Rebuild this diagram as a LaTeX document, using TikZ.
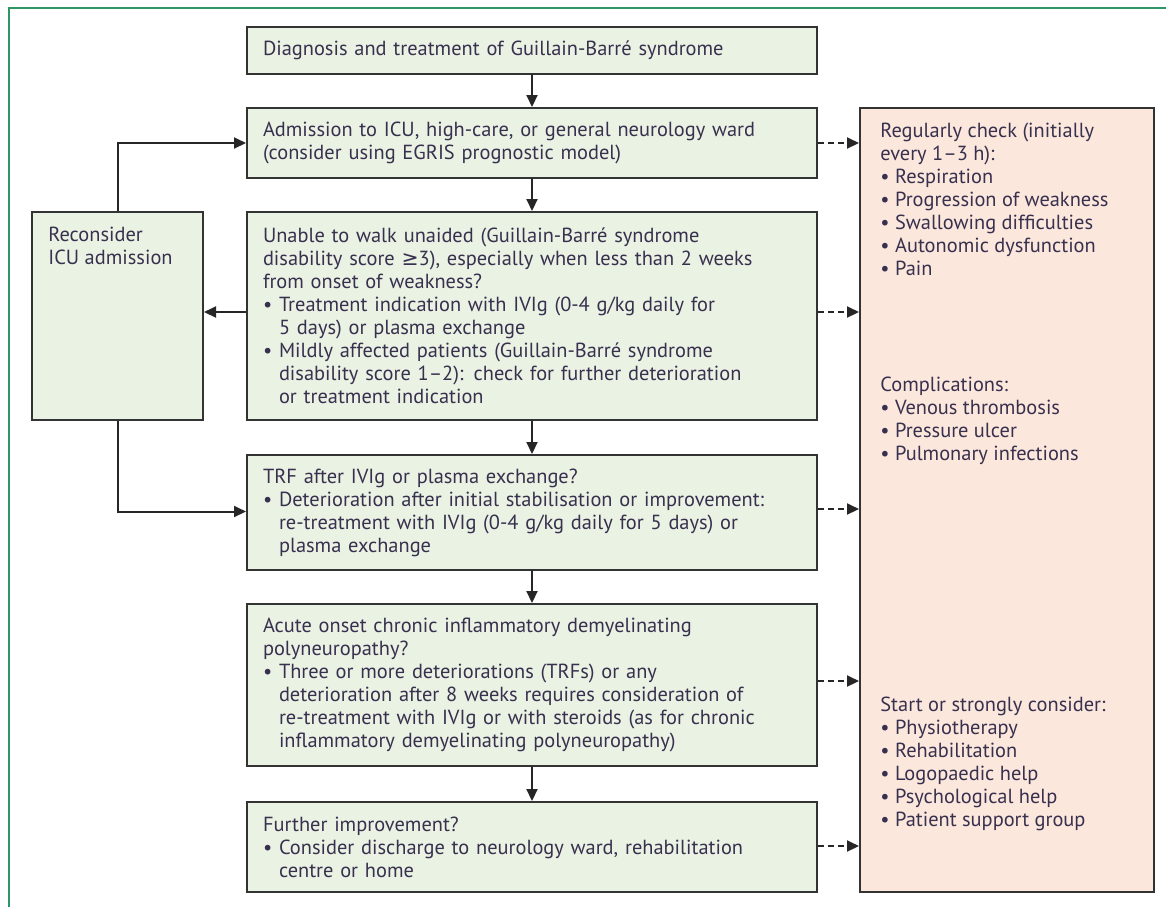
\documentclass[tikz,border=0pt]{standalone}
\usepackage{fontspec}
\setmainfont{PT Sans}
\newfontfamily\symfont{DejaVu Sans}
\usetikzlibrary{arrows.meta}
\definecolor{boxgreen}{RGB}{234,242,227}
\definecolor{boxpeach}{RGB}{252,231,220}
\definecolor{framegreen}{RGB}{46,150,100}
\definecolor{inkblue}{RGB}{55,48,78}
\newcommand{\bul}{\textbullet\ }
\newcommand{\ind}{\hphantom{\textbullet\ }}

\begin{document}
\begin{tikzpicture}[x=0.5pt, y=-0.5pt, font=\fontsize{10.2}{11.5}\selectfont, text=inkblue]
\tikzset{stepbox/.style={draw=black!80, fill=boxgreen, line width=1pt, text width=269pt, inner xsep=8pt, inner ysep=0pt, align=left, minimum height=#1},
  sidebox/.style={draw=black!80, line width=1pt, inner sep=0pt},
  boxtext/.style={anchor=north west, inner sep=0pt, align=left},
  flow/.style={line width=1pt, draw=black!85, -{Triangle[length=6pt, width=5.5pt]}},
  check/.style={flow, dash pattern=on 3pt off 2pt}}
\useasboundingbox (0,0) rectangle (1166,907);
\draw[framegreen, line width=1pt] (9,907) -- (9,8) -- (1166,8);
% main column
\node[stepbox=23.5pt] (diag) at (532,50.5) {Diagnosis and treatment of Guillain-Barré syndrome};
\node[stepbox=35pt] (admit) at (532,143) {Admission to ICU, high-care, or general neurology ward\\(consider using EGRIS prognostic model)};
\node[stepbox=104pt] (walk) at (532,316) {Unable to walk unaided (Guillain-Barré syndrome\\disability score {\symfont ≥}3), especially when less than 2 weeks\\from onset of weakness?\\\bul Treatment indication with IVIg (0-4 g/kg daily for\\\ind 5 days) or plasma exchange\\\bul Mildly affected patients (Guillain-Barré syndrome\\\ind disability score 1–2): check for further deterioration\\\ind or treatment indication};
\node[stepbox=57.5pt] (trf) at (532,512.5) {TRF after IVIg or plasma exchange?\\\bul Deterioration after initial stabilisation or improvement:\\\ind re-treatment with IVIg (0-4 g/kg daily for 5 days) or\\\ind plasma exchange};
\node[stepbox=81pt] (cidp) at (532,685) {Acute onset chronic inflammatory demyelinating\\polyneuropathy?\\\bul Three or more deteriorations (TRFs) or any\\\ind deterioration after 8 weeks requires consideration of\\\ind re-treatment with IVIg or with steroids (as for chronic\\\ind inflammatory demyelinating polyneuropathy)};
\node[stepbox=45pt] (further) at (532,847) {Further improvement?\\\bul Consider discharge to neurology ward, rehabilitation\\\ind centre or home};
% side boxes
\node[sidebox, fill=boxgreen, minimum width=85.5pt, minimum height=104pt] (icu) at (117.5,316) {};
\node[boxtext] (icutxt) at (48,227) {Reconsider\\ICU admission};
\node[sidebox, fill=boxpeach, minimum width=147pt, minimum height=392pt] (care) at (1007,500) {};
\node[boxtext] (checks) at (880,123) {Regularly check (initially\\every 1–3 h):\\\bul Respiration\\\bul Progression of weakness\\\bul Swallowing difficulties\\\bul Autonomic dysfunction\\\bul Pain};
\node[boxtext] (compl) at (880,377) {Complications:\\\bul Venous thrombosis\\\bul Pressure ulcer\\\bul Pulmonary infections};
\node[boxtext] (rehab) at (880,697) {Start or strongly consider:\\\bul Physiotherapy\\\bul Rehabilitation\\\bul Logopaedic help\\\bul Psychological help\\\bul Patient support group};
% connectors
\draw[flow] (diag) -- (admit);
\draw[flow] (admit) -- (walk);
\draw[flow] (walk) -- (trf);
\draw[flow] (trf) -- (cidp);
\draw[flow] (cidp) -- (further);
\draw[flow] (walk.west) ++(0,-4) coordinate (walkout) -- (walkout -| icu.east);
\draw[flow] (icu.north) |- (admit.west);
\draw[flow] (icu.south) |- ([yshift=0.5pt]trf.west);
\foreach \b/\dy in {admit/0, walk/-4, trf/-3.5, cidp/-4, further/-1}
  \draw[check] ([yshift=\dy*-0.5pt]\b.east) -- ([yshift=\dy*-0.5pt]\b.east -| care.west);
\end{tikzpicture}
\end{document}
